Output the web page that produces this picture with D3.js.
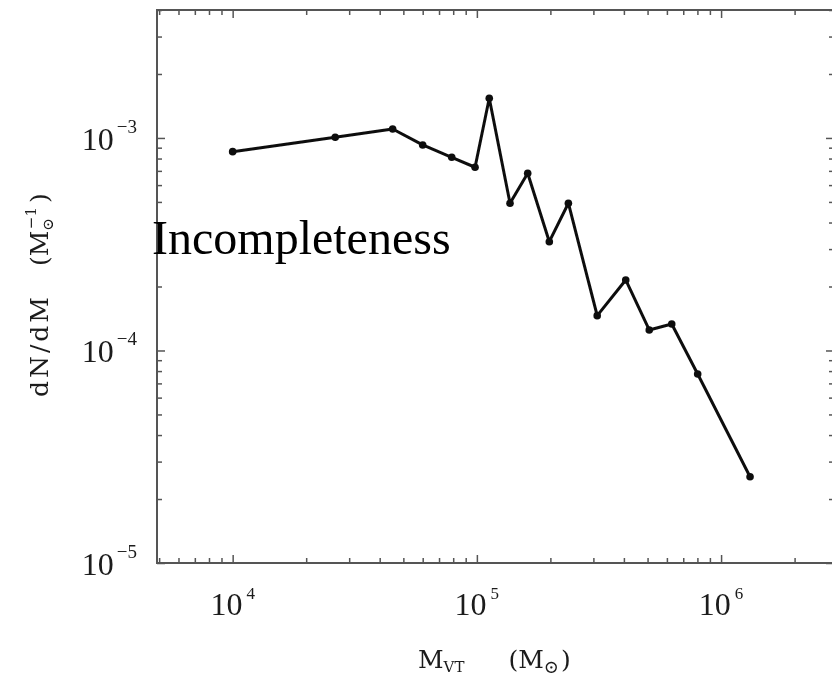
<!DOCTYPE html>
<html>
<head>
<meta charset="utf-8">
<script src="https://cdn.jsdelivr.net/npm/d3@7/dist/d3.min.js"></script>
<style>
  html, body { margin: 0; padding: 0; background: #fff; }
  svg { display: block; }
</style>
</head>
<body>
<svg id="chart" width="832" height="676"></svg>
<script>
// Virial mass function: dN/dM against M_VT, log-log
const massVT = [1.0e4, 2.63e4, 4.52e4, 6.0e4, 7.89e4, 9.83e4, 1.124e5, 1.367e5, 1.615e5,
                1.98e5, 2.37e5, 3.11e5, 4.07e5, 5.08e5, 6.28e5, 8.02e5, 1.314e6];
const dNdM   = [8.62e-4, 1.008e-3, 1.102e-3, 9.27e-4, 8.11e-4, 7.28e-4, 1.538e-3, 4.93e-4, 6.82e-4,
                3.25e-4, 4.93e-4, 1.458e-4, 2.147e-4, 1.249e-4, 1.332e-4, 7.75e-5, 2.547e-5];

// axis extents and labelled decades
const xExtent = [4.9e3, 2.9e6];
const yExtent = [1e-5, 4e-3];
const xDecades = [1e4, 1e5, 1e6];
const xDecadeExp = ["4", "5", "6"];
const yDecades = [1e-5, 1e-4, 1e-3];
const yDecadeExp = ["−5", "−4", "−3"];
const annotation = "Incompleteness";

const svg = d3.select("#chart");
const W = 832, H = 676;
const plot = { left: 157, top: 10, right: 834, bottom: 563 };

svg.append("rect").attr("width", W).attr("height", H).attr("fill", "#fff");

const defs = svg.append("defs");
defs.append("filter").attr("id", "soft")
  .attr("x", "-5%").attr("y", "-5%").attr("width", "110%").attr("height", "110%")
  .append("feGaussianBlur").attr("stdDeviation", 0.6);

const x = d3.scaleLog().domain(xExtent).range([plot.left, plot.right]);
const y = d3.scaleLog().domain(yExtent).range([plot.bottom, plot.top]);

const g = svg.append("g").attr("filter", "url(#soft)");

const isDecade = v => Math.abs(Math.log10(v) - Math.round(Math.log10(v))) < 1e-9;
const frameColor = "#555";

// ticks on all four sides, pointing inward
function styleAxis(sel) {
  sel.select(".domain").remove();
  sel.selectAll(".tick line").attr("stroke", frameColor).attr("stroke-width", 1.5);
  sel.selectAll(".tick text").remove();
}
const xTicks = x.ticks().filter(v => v >= xExtent[0] && v <= xExtent[1]);
const yTicks = y.ticks().filter(v => v >= yExtent[0] && v <= yExtent[1]);

const majorLen = 8, minorLen = 5;

const axB = g.append("g").attr("transform", `translate(0,${plot.bottom})`)
  .call(d3.axisBottom(x).tickValues(xTicks).tickSizeOuter(0).tickSize(0));
axB.selectAll(".tick line").attr("y2", d => -(isDecade(d) ? majorLen : minorLen));
styleAxis(axB);

const axT = g.append("g").attr("transform", `translate(0,${plot.top})`)
  .call(d3.axisTop(x).tickValues(xTicks).tickSizeOuter(0).tickSize(0));
axT.selectAll(".tick line").attr("y2", d => (isDecade(d) ? majorLen : minorLen));
styleAxis(axT);

const axL = g.append("g").attr("transform", `translate(${plot.left},0)`)
  .call(d3.axisLeft(y).tickValues(yTicks).tickSizeOuter(0).tickSize(0));
axL.selectAll(".tick line").attr("x2", d => (isDecade(d) ? majorLen : minorLen));
styleAxis(axL);

const axR = g.append("g").attr("transform", `translate(${plot.right},0)`)
  .call(d3.axisRight(y).tickValues(yTicks).tickSizeOuter(0).tickSize(0));
axR.selectAll(".tick line").attr("x2", d => -(isDecade(d) ? majorLen : minorLen));
styleAxis(axR);

// frame
g.append("rect")
  .attr("x", plot.left).attr("y", plot.top)
  .attr("width", plot.right - plot.left).attr("height", plot.bottom - plot.top)
  .attr("fill", "none").attr("stroke", frameColor).attr("stroke-width", 2);

// tick labels: 10 with a raised exponent
const labelFont = "'Liberation Serif', 'Times New Roman', serif";
const xl = g.append("g").selectAll("text").data(xDecades).join("text")
  .attr("x", d => x(d)).attr("y", plot.bottom + 52)
  .attr("text-anchor", "middle")
  .attr("font-family", labelFont).attr("fill", "#1a1a1a");
xl.append("tspan").attr("font-size", 32).text("10");
xl.append("tspan").attr("font-size", 17).attr("dx", 4).attr("dy", -16)
  .text((d, i) => xDecadeExp[i]);

const yl = g.append("g").selectAll("text").data(yDecades).join("text")
  .attr("x", plot.left - 20).attr("y", d => y(d) + 12)
  .attr("text-anchor", "end")
  .attr("font-family", labelFont).attr("fill", "#1a1a1a");
yl.append("tspan").attr("font-size", 32).text("10");
yl.append("tspan").attr("font-size", 19).attr("dx", 3).attr("dy", -17)
  .text((d, i) => yDecadeExp[i]);

// axis titles
const titleFont = "'DejaVu Serif', serif";
const xt = g.append("text")
  .attr("x", 418).attr("y", 668)
  .attr("font-family", titleFont).attr("font-size", 25).attr("fill", "#1a1a1a");
xt.append("tspan").text("M");
xt.append("tspan").attr("font-size", 15).attr("dy", 4).text("VT");
xt.append("tspan").attr("dy", -4).attr("dx", 44).text("(M");
xt.append("tspan").attr("font-size", 18).attr("dy", 5).text("⊙");
xt.append("tspan").attr("dy", -5).attr("dx", 2).text(")");

const yt = g.append("text")
  .attr("transform", "translate(48,397) rotate(-90)")
  .attr("font-family", titleFont).attr("font-size", 25).attr("fill", "#1a1a1a");
yt.append("tspan").attr("letter-spacing", 3).text("dN/dM");
yt.append("tspan").attr("dx", 28).text("(M");
yt.append("tspan").attr("font-size", 15).attr("dy", 5).text("⊙");
yt.append("tspan").attr("font-size", 15).attr("dx", -11).attr("dy", -17).text("−1");
yt.append("tspan").attr("dx", 4).attr("dy", 12).text(")");

// data line and markers
const pts = massVT.map((m, i) => [m, dNdM[i]]);
g.append("path").datum(pts)
  .attr("d", d3.line().x(d => x(d[0])).y(d => y(d[1])))
  .attr("fill", "none").attr("stroke", "#111").attr("stroke-width", 3)
  .attr("stroke-linejoin", "round");
g.append("g").selectAll("circle").data(pts).join("circle")
  .attr("cx", d => x(d[0])).attr("cy", d => y(d[1])).attr("r", 3.8)
  .attr("fill", "#111");

// annotation
svg.append("text")
  .attr("x", 152).attr("y", 254)
  .attr("font-family", "'Liberation Serif', 'Times New Roman', serif")
  .attr("font-size", 48).attr("fill", "#000")
  .text(annotation);
</script>
</body>
</html>
